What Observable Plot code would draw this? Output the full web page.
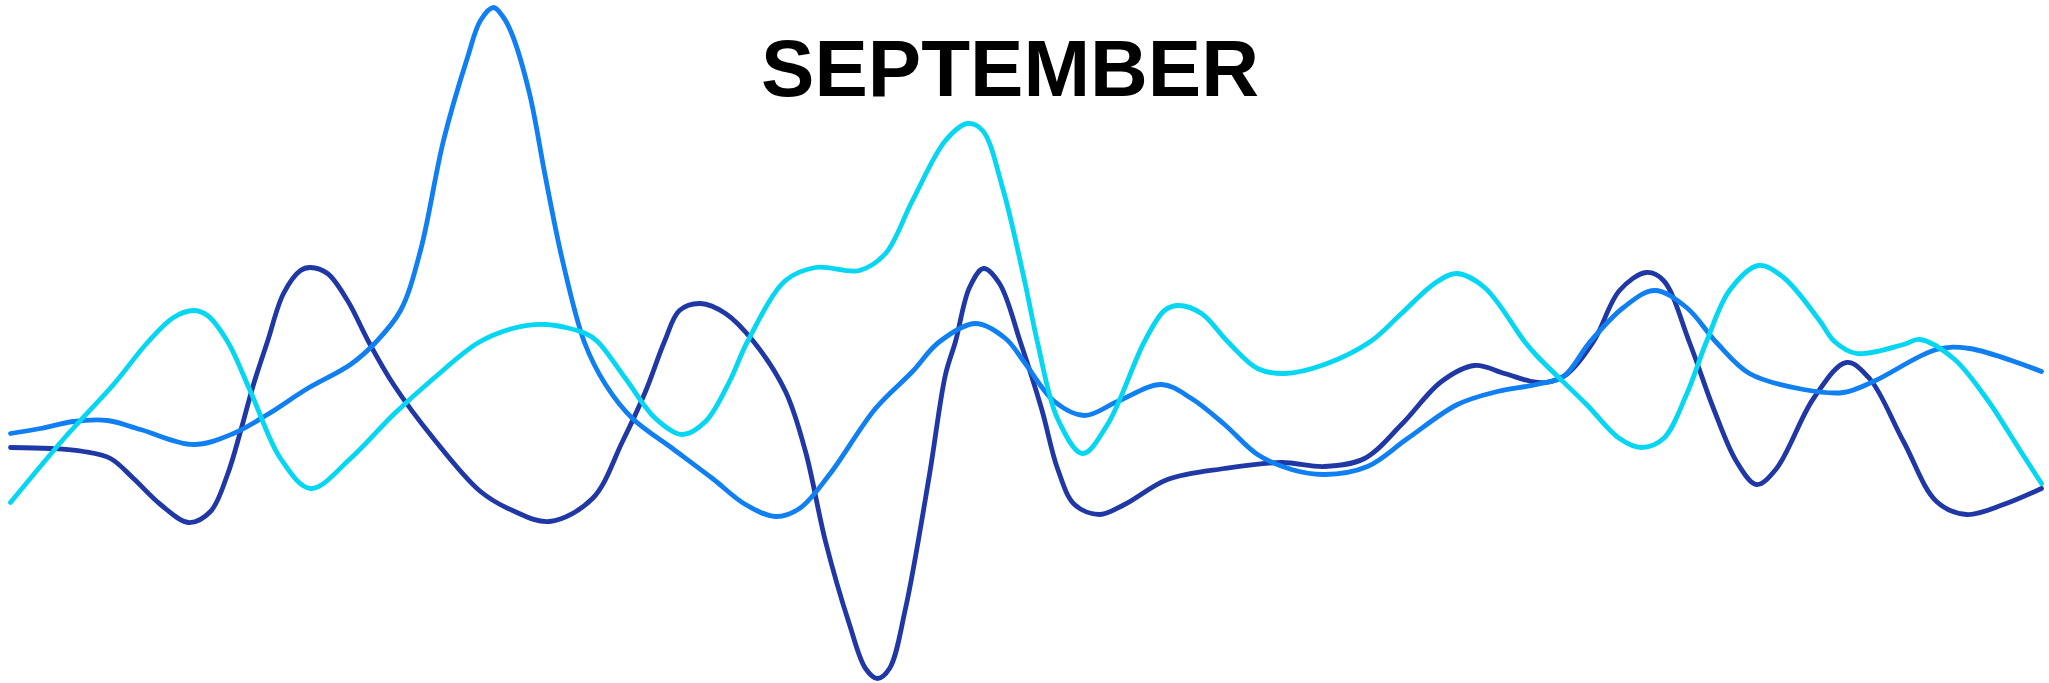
<!DOCTYPE html>
<html>
<head>
<meta charset="utf-8">
<script src="https://cdn.jsdelivr.net/npm/d3@7"></script>
<script src="https://cdn.jsdelivr.net/npm/@observablehq/plot@0.6"></script>
<style>
  html, body { margin: 0; padding: 0; background: #ffffff; }
  #chart { position: relative; width: 2049px; height: 683px; }
</style>
</head>
<body>
<div id="chart"></div>
<script>
// Title
const title = "SEPTEMBER";

// Series names and colours
const seriesNames = ["Series A", "Series B", "Series C"];
const seriesColors = ["#2038a6", "#0f7ff2", "#05d6f1"];

// Position along the month (0 .. 2031) and value (0 .. 683)
const seriesAT = [0,40,73,100,123,150,178,200,217,230,243,257,273,290,300,317,337,358,383,423,470,502,539,582,612,635,654,669,690,715,743,775,795,815,839,855,867,879,895,919,935,945,959,973,989,1010,1031,1047,1064,1089,1114,1157,1214,1271,1314,1354,1391,1431,1464,1494,1521,1535,1556,1583,1609,1636,1653,1679,1703,1726,1746,1766,1803,1836,1859,1893,1926,1956,1993,2031];
const seriesAV = [236,235,232,225,205,179,161,172,209,252,299,342,390,413,416,410,383,342,299,245,192,173,162,185,242,292,342,373,380,370,342,292,232,142,59,15,5,15,75,209,309,342,396,415,400,341,275,215,179,169,179,204,215,221,217,225,259,302,318,310,302,301,309,342,393,411,403,341,275,222,199,215,285,321,305,242,182,169,179,195];

const seriesBT = [0,30,63,97,130,183,223,257,297,340,365,390,410,433,457,470,483,493,502,519,535,552,574,595,622,662,702,735,765,789,819,865,902,928,965,995,1014,1044,1074,1107,1151,1181,1214,1247,1281,1314,1357,1397,1447,1487,1526,1553,1579,1613,1644,1676,1706,1739,1793,1833,1863,1926,1959,2031];
const seriesBV = [250,255,262,263,254,239,250,269,295,319,341,373,433,543,626,663,676,666,648,590,506,423,341,299,265,235,205,179,167,175,209,275,312,341,360,345,321,282,268,282,299,285,259,229,214,209,217,245,279,292,299,307,341,376,393,376,341,310,294,291,302,334,335,312];

const seriesCT = [0,57,103,137,163,183,197,217,240,270,300,340,383,423,468,502,535,575,587,615,645,672,695,719,737,775,805,849,875,902,935,957,972,992,1014,1027,1047,1072,1097,1134,1154,1168,1191,1217,1247,1274,1314,1360,1391,1424,1446,1474,1514,1526,1576,1609,1631,1653,1676,1696,1719,1748,1773,1809,1824,1846,1893,1909,1943,1976,2009,2031];
const seriesCV = [181,249,299,341,366,373,368,342,292,225,195,225,269,305,341,355,359,350,342,305,265,249,262,302,342,403,416,413,430,483,543,560,553,496,403,341,265,230,259,342,373,378,370,342,315,310,319,342,370,400,410,396,342,328,279,245,236,245,289,342,393,418,406,363,342,330,339,344,325,285,234,200];

const seriesT = [seriesAT, seriesBT, seriesCT];
const seriesV = [seriesAV, seriesBV, seriesCV];

const rows = [];
seriesNames.forEach((name, i) => {
  seriesT[i].forEach((t, j) => rows.push({series: name, t, v: seriesV[i][j]}));
});

const chart = Plot.plot({
  width: 2049,
  height: 683,
  marginTop: 0, marginRight: 0, marginBottom: 0, marginLeft: 0,
  style: {background: "#ffffff", overflow: "visible"},
  x: {domain: [0, 2031], range: [10, 2041], axis: null},
  y: {domain: [0, 683], range: [683, 0], axis: null},
  color: {type: "ordinal", domain: seriesNames, range: seriesColors},
  marks: [
    Plot.line(rows, {
      x: "t", y: "v", z: "series", stroke: "series",
      strokeWidth: 4.8, curve: "catmull-rom",
      strokeLinecap: "round", strokeLinejoin: "round"
    }),
    Plot.text([title], {
      text: d => d,
      frameAnchor: "top",
      lineAnchor: "bottom",
      dx: -15, dy: 95,
      fontSize: 80, fontWeight: "bold",
      fontFamily: "'Liberation Sans', Arial, Helvetica, sans-serif",
      fill: "#000000"
    })
  ]
});

document.getElementById("chart").appendChild(chart);
</script>
</body>
</html>
